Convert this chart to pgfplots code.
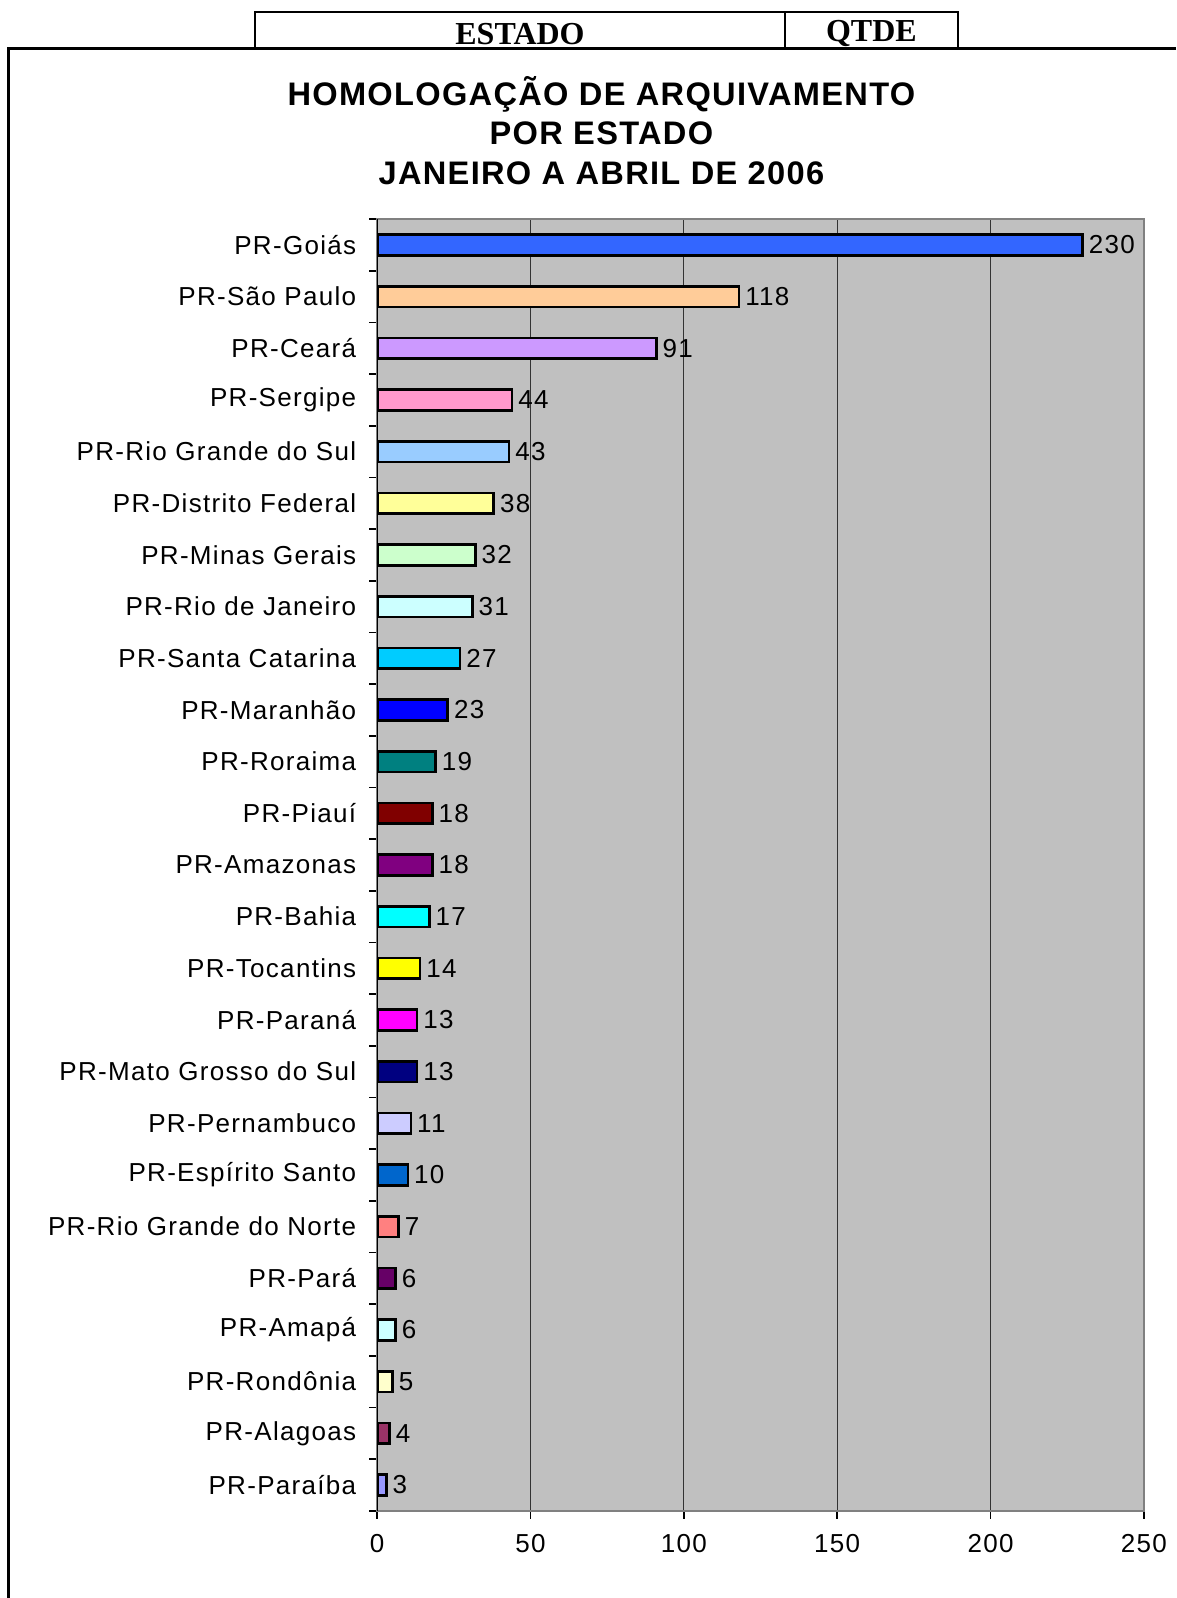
\documentclass[border=0pt]{standalone}
\usepackage{fontspec}
\setmainfont{Liberation Sans}
\newfontfamily\headfont{Liberation Serif}
\newfontfamily\titlefont[LetterSpace=4]{Liberation Sans}
\newfontfamily\labfont[LetterSpace=5]{Liberation Sans}
\usepackage{pgfplots}
\pgfplotsset{compat=1.18}

\definecolor{plotbg}{HTML}{C0C0C0}
\definecolor{frameg}{HTML}{808080}
\definecolor{cGO}{HTML}{3366FF}
\definecolor{cSP}{HTML}{FFCC99}
\definecolor{cCE}{HTML}{CC99FF}
\definecolor{cSE}{HTML}{FF99CC}
\definecolor{cRS}{HTML}{99CCFF}
\definecolor{cDF}{HTML}{FFFF99}
\definecolor{cMG}{HTML}{CCFFCC}
\definecolor{cRJ}{HTML}{CCFFFF}
\definecolor{cSC}{HTML}{00CCFF}
\definecolor{cMA}{HTML}{0000FF}
\definecolor{cRR}{HTML}{008080}
\definecolor{cPI}{HTML}{800000}
\definecolor{cAM}{HTML}{800080}
\definecolor{cBA}{HTML}{00FFFF}
\definecolor{cTO}{HTML}{FFFF00}
\definecolor{cPR}{HTML}{FF00FF}
\definecolor{cMS}{HTML}{000080}
\definecolor{cPE}{HTML}{CCCCFF}
\definecolor{cES}{HTML}{0066CC}
\definecolor{cRN}{HTML}{FF8080}
\definecolor{cPA}{HTML}{660066}
\definecolor{cAP}{HTML}{CCFFFF}
\definecolor{cRO}{HTML}{FFFFCC}
\definecolor{cAL}{HTML}{993366}
\definecolor{cPB}{HTML}{9999FF}

\begin{document}
\begin{tikzpicture}[x=1pt,y=1pt]

% header table
\draw[line width=1pt] (127.4,774.5) rectangle (479,793);
\draw[line width=1pt] (392.4,774.5) -- (392.4,793);
\node[font=\headfont\bfseries\fontsize{16}{18}\selectfont] at (260,782) {ESTADO};
\node[font=\headfont\bfseries\fontsize{16}{18}\selectfont] at (435.7,782) {QTDE};

% chart frame
\draw[line width=1.5pt] (4.1,0) -- (4.1,774.5) -- (588,774.5);

% title
\node[font=\titlefont\bfseries\fontsize{16.3}{19}\selectfont, align=center] at (300.7,733.7)
  {HOMOLOGAÇÃO DE ARQUIVAMENTO\\[0.6pt]POR ESTADO\\[0.6pt]JANEIRO A ABRIL DE 2006};

\begin{axis}[
  at={(188.6pt,43.6pt)}, anchor=south west,
  scale only axis, width=383.3pt, height=645.8pt,
  xbar, bar width=10.4pt, bar shift=0pt,
  xmin=0, xmax=250, xtick={0,50,...,250},
  ymin=-0.5, ymax=24.5, y dir=reverse,
  ytick={0,...,24},
  yticklabels={PR-Goiás, PR-São Paulo, PR-Ceará, PR-Sergipe, PR-Rio Grande do Sul,
    PR-Distrito Federal, PR-Minas Gerais, PR-Rio de Janeiro, PR-Santa Catarina,
    PR-Maranhão, PR-Roraima, PR-Piauí, PR-Amazonas, PR-Bahia, PR-Tocantins,
    PR-Paraná, PR-Mato Grosso do Sul, PR-Pernambuco, PR-Espírito Santo,
    PR-Rio Grande do Norte, PR-Pará, PR-Amapá, PR-Rondônia, PR-Alagoas, PR-Paraíba},
  minor ytick={-0.5,0.5,...,24.5},
  xtick pos=bottom, ytick pos=left,
  major y tick style={draw=none},
  minor y tick style={black, line width=0.8pt},
  minor tick length=4pt,
  x tick style={black, line width=0.8pt},
  major tick length=4pt,
  tick align=outside,
  xmajorgrids, grid style={black!80, line width=0.5pt},
  axis background/.style={fill=plotbg},
  axis line style={draw=frameg, line width=1.2pt},
  ticklabel style={font=\labfont\fontsize{13}{15}\selectfont},
  /pgf/number format/assume math mode=true,
  yticklabel style={xshift=-3pt},
  xticklabel style={yshift=-4pt},
  every axis plot/.append style={draw=black, line width=1.3pt},
  nodes near coords,
  nodes near coords style={font=\labfont\fontsize{13}{15}\selectfont, anchor=west, inner sep=2.5pt},
]
\addplot[fill=cGO] coordinates {(230,0)};
\addplot[fill=cSP] coordinates {(118,1)};
\addplot[fill=cCE] coordinates {(91,2)};
\addplot[fill=cSE] coordinates {(44,3)};
\addplot[fill=cRS] coordinates {(43,4)};
\addplot[fill=cDF] coordinates {(38,5)};
\addplot[fill=cMG] coordinates {(32,6)};
\addplot[fill=cRJ] coordinates {(31,7)};
\addplot[fill=cSC] coordinates {(27,8)};
\addplot[fill=cMA] coordinates {(23,9)};
\addplot[fill=cRR] coordinates {(19,10)};
\addplot[fill=cPI] coordinates {(18,11)};
\addplot[fill=cAM] coordinates {(18,12)};
\addplot[fill=cBA] coordinates {(17,13)};
\addplot[fill=cTO] coordinates {(14,14)};
\addplot[fill=cPR] coordinates {(13,15)};
\addplot[fill=cMS] coordinates {(13,16)};
\addplot[fill=cPE] coordinates {(11,17)};
\addplot[fill=cES] coordinates {(10,18)};
\addplot[fill=cRN] coordinates {(7,19)};
\addplot[fill=cPA] coordinates {(6,20)};
\addplot[fill=cAP] coordinates {(6,21)};
\addplot[fill=cRO] coordinates {(5,22)};
\addplot[fill=cAL] coordinates {(4,23)};
\addplot[fill=cPB] coordinates {(3,24)};
\draw[black, line width=1pt] (rel axis cs:0,0) -- (rel axis cs:0,1);
\end{axis}
\pgfresetboundingbox
\path[use as bounding box] (0,0) rectangle (588,799);
\end{tikzpicture}
\end{document}
